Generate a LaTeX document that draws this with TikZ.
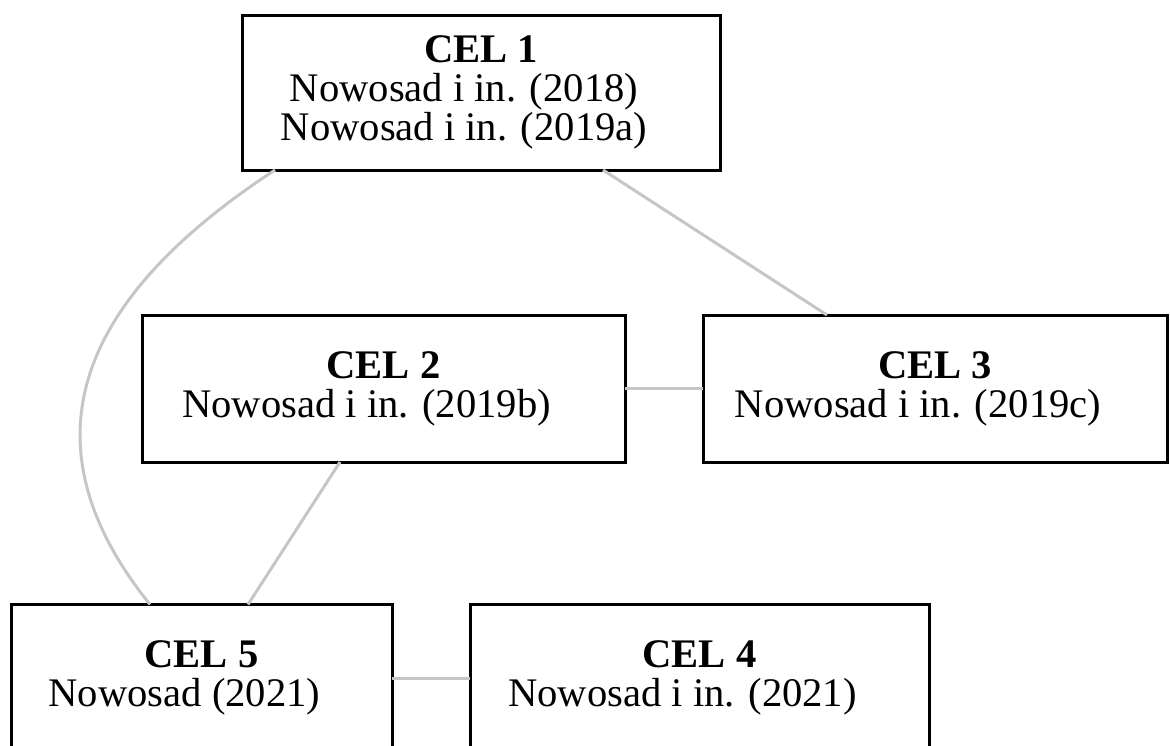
\documentclass[tikz,border=0pt]{standalone}
\usepackage{fontspec}
\setmainfont{Liberation Serif}
\usepackage{tikz}
\usetikzlibrary{positioning}

\newcommand{\publine}[1]{\hspace*{-17pt}#1}

\begin{document}
\begin{tikzpicture}[
    x=0.5pt, y=-0.5pt,
    cel/.style = {rectangle, draw, line width=1.5pt, minimum width=#1,
                  minimum height=73.5pt, inner sep=0pt, outer sep=0pt,
                  align=center, font=\fontsize{20.3}{19.5}\selectfont},
    cel/.default = 240pt
    ]
            % styles
            \tikzstyle{link} = [line width=1.5pt, draw=gray!45]

            \useasboundingbox (0,0) rectangle (1170,745);
            \clip (0,0) rectangle (1170,745);

            \node (cel1) at (481,92.75) [cel=239pt, minimum height=77.25pt] {\textbf{CEL 1}\\ \publine{Nowosad i in. (2018)}\\ \publine{Nowosad i in. (2019a)}};
            \node (cel2) at (383.5,388.5) [cel=241.5pt] {\textbf{CEL 2}\\ \publine{Nowosad i in. (2019b)}};
            \node (cel3) [cel=232pt, right=39pt of cel2] {\textbf{CEL 3}\\ \publine{Nowosad i in. (2019c)}};
            \node (cel5) at (201.5,678) [cel=190.5pt] {\textbf{CEL 5}\\ \publine{Nowosad (2021)}};
            \node (cel4) [cel=229.5pt, right=39pt of cel5] {\textbf{CEL 4}\\ \publine{Nowosad i in. (2021)}};

            \draw [link] ([xshift=16.5pt]cel1.south west) .. controls (30,330) and (50,480) .. ([xshift=69.5pt]cel5.north west);
            \draw [link] ([xshift=-58.5pt]cel1.south east) -- ([xshift=62pt]cel3.north west);
            \draw [link] (cel2) -- (cel3);
            \draw [link] ([xshift=99pt]cel2.south west) -- ([xshift=118.5pt]cel5.north west);
            \draw [link] (cel5) -- (cel4);
\end{tikzpicture}
\end{document}
